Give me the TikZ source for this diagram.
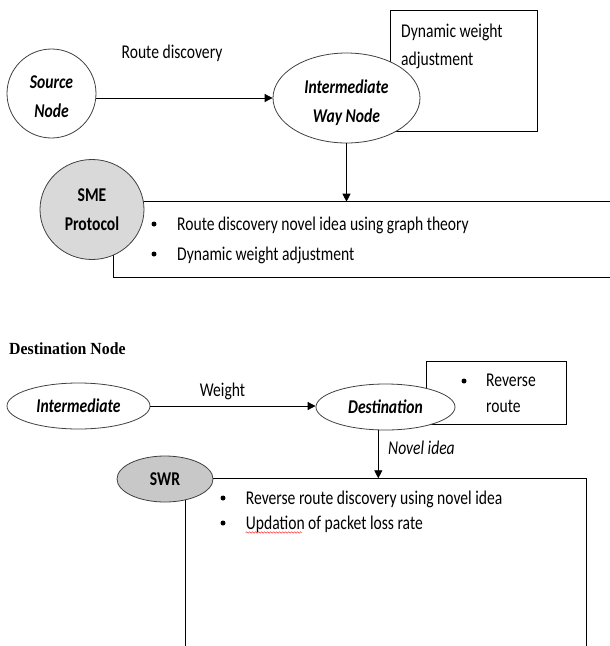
\documentclass[tikz,border=0pt]{standalone}
\usepackage{fontspec}
\setmainfont{Carlito}[FakeStretch=0.8]
\newfontfamily\headfont{Liberation Serif}[FakeStretch=0.93]
\usetikzlibrary{shapes.geometric,arrows.meta,decorations.pathmorphing}

\begin{document}
\begin{tikzpicture}[x=1pt,y=-1pt,
	oval/.style={ellipse,draw=black!75,line width=0.8pt,fill=white,inner sep=0pt,align=center,font=\fontsize{19.5}{28.5}\selectfont\bfseries},
	slant/.style={font=\fontsize{19.5}{28.5}\selectfont\bfseries\itshape},
	txt/.style={inner sep=0pt,anchor=base west,font=\fontsize{19.5}{28}\selectfont},
	dot/.style={circle,fill=black,inner sep=0pt,minimum size=5pt},
	box/.style={draw=black,line width=0.8pt},
	arr/.style={-{Triangle[length=8pt,width=8pt]},line width=0.8pt}]

	\useasboundingbox (0,0) rectangle (610,646);

	% source node to way node
	\draw[box] (390,10) rectangle (537,131);
	\node[txt] (dwline1) at (401,37.5) {Dynamic weight};
	\node[txt] (dwline2) at (401,65.5) {adjustment};

	\node[oval,slant,minimum width=89,minimum height=89] (source) at (51.5,93.5) {\rule{0pt}{19pt}Source\\Node};
	\node[oval,slant,minimum width=147,minimum height=90] (way) at (346.5,98) {\rule{0pt}{23pt}Intermediate\\[0.5pt]Way Node};
	\node[txt,anchor=base] (routelbl) at (172,58.5) {Route discovery};
	\draw[arr] (source.east |- way.west) -- (way.west);

	% SME box
	\coordinate (smetop) at (346.5,201.7);
	\draw[box] (610,201.7) -- (113,201.7) -- (113,277) -- (610,277);
	\node[oval,fill=gray!30,minimum width=104,minimum height=100] (sme) at (92,209.5) {SME\\Protocol};
	\draw[arr] (way) -- (smetop);

	\node[dot] (smeb1) at (154,224) {};
	\node[txt] (smeitem1) at (177,230) {Route discovery novel idea using graph theory};
	\node[dot] (smeb2) at (154,254) {};
	\node[txt] (smeitem2) at (177,260) {Dynamic weight adjustment};

	% destination node
	\node[inner sep=0pt,anchor=base west,font=\headfont\fontsize{17}{19}\selectfont\bfseries] (desthead) at (9,354) {Destination Node};

	\draw[box] (426,361.7) rectangle (566,424.3);
	\node[dot] (revb) at (464,381) {};
	\node[txt] (rev1) at (486,386.7) {Reverse};
	\node[txt] (rev2) at (486,412.3) {route};

	\node[oval,slant,minimum width=143,minimum height=46] (inter) at (78.5,406) {Intermediate};
	\node[oval,slant,minimum width=139,minimum height=46] (dest) at (385.5,407) {Destination};
	\node[txt,anchor=base] (weightlbl) at (222.5,396.7) {Weight};
	\draw[arr] (inter.east) -- (inter.east -| dest.west);

	% SWR box
	\coordinate (swrtop) at (378.3,478.3);
	\draw[box] (185,646) -- (185,478.3) -- (586,478.3) -- (586,646);
	\node[oval,fill=gray!43,minimum width=96,minimum height=46] (swr) at (165,479) {SWR};
	\draw[arr] (dest.south -| swrtop) -- (swrtop);
	\node[txt,font=\fontsize{19.5}{28}\selectfont\itshape] (novellbl) at (388,454) {Novel idea};

	\node[dot] (swrb1) at (223,498) {};
	\node[txt] (swritem1) at (245.7,504) {Reverse route discovery using novel idea};
	\node[dot] (swrb2) at (223,523) {};
	\node[txt] (swritem2) at (245.7,529) {Updation of packet loss rate};
	\draw[red,line width=0.4pt,decorate,decoration={snake,amplitude=0.8pt,segment length=3pt}] (245.7,532.5) -- (302,532.5);

\end{tikzpicture}
\end{document}
